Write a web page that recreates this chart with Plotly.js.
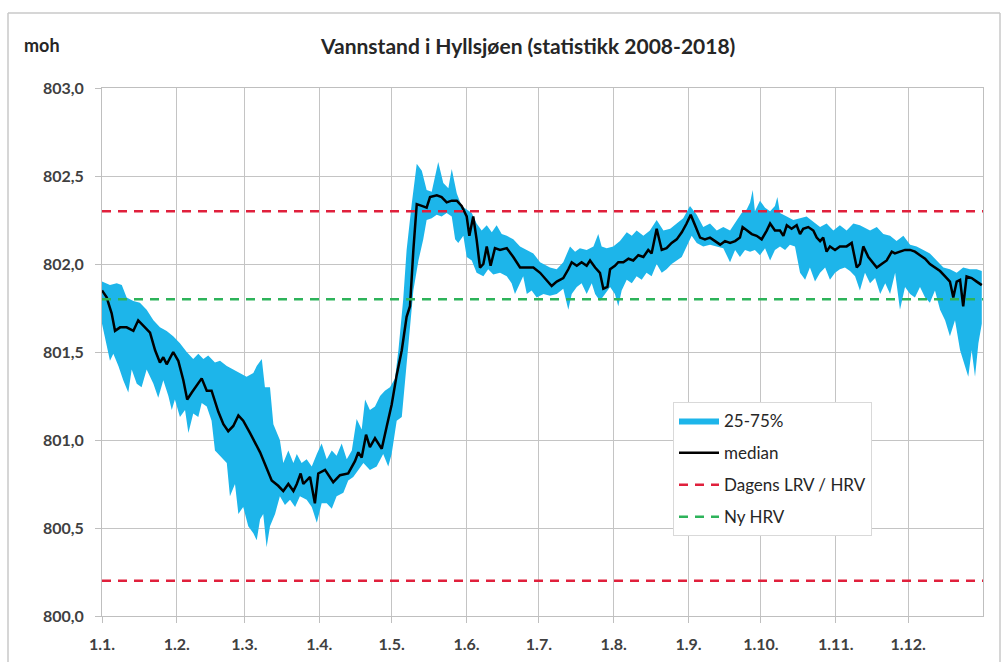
<!DOCTYPE html>
<html>
<head>
<meta charset="utf-8">
<script src="https://cdn.plot.ly/plotly-3.0.1.min.js"></script>
<style>html,body{margin:0;padding:0;background:#fff;}#chart{width:1008px;height:662px;}</style>
</head>
<body>
<div id="chart"></div>
<script>
// x = day of year (0 = 1 Jan), values in m o.h.
const monthStarts = [0,31,59,90,120,151,181,212,243,273,304,334];
const monthLabels = ["1.1.","1.2.","1.3.","1.4.","1.5.","1.6.","1.7.","1.8.","1.9.","1.10.","1.11.","1.12."];
const yTicks = [800.0,800.5,801.0,801.5,802.0,802.5,803.0];

const medDays = [0,2.0,2.6,4.0,5.4,7.5,10.2,13.0,15.0,17.1,19.9,22.0,24.0,25.4,26.8,29.5,31.6,33.7,35.3,37.2,39.2,41.3,43.4,45.4,48.2,50.3,52.3,54.4,56.5,58.5,61.3,65.5,70.3,73.0,75.1,77.2,79.3,80.7,82.3,83.4,86.2,88.2,89.6,92.4,95.8,98.6,102.0,104.8,106.2,107.6,109.4,111.0,113.1,115.9,118.0,120.0,122.1,124.2,126.2,127.6,129.0,130.4,132.5,134.5,135.9,138.7,140.7,142.8,144.9,147.0,149.0,151.1,152.2,153.8,155.2,156.6,158.0,159.4,161.0,162.8,164.9,167.7,170.4,173.2,176.0,178.7,181.5,184.2,186.3,188.4,191.1,193.2,194.6,196.7,198.7,200.8,202.2,204.3,206.3,207.7,209.4,210.5,212.5,213.9,216.0,218.1,220.1,222.2,224.3,226.3,227.7,229.8,231.9,233.9,236.0,238.1,240.2,242.2,243.9,245.7,247.8,249.8,251.9,254.0,256.1,258.1,260.2,262.3,264.3,265.4,267.1,269.2,271.2,273.3,275.4,276.8,278.8,280.9,282.3,283.7,285.7,287.8,289.2,290.5,292.6,294.7,296.1,297.5,298.8,300.2,301.6,303.7,305.7,308.5,310.6,312.7,314.0,315.4,317.5,319.6,321.0,323.0,325.1,327.2,328.5,330.6,332.7,334.8,336.8,338.9,341.0,343.0,345.1,347.2,349.3,351.3,352.7,354.1,355.5,356.8,358.2,360.3,362.4,364.5];
const medVals = [801.85,801.81,801.78,801.72,801.62,801.64,801.64,801.62,801.68,801.65,801.61,801.51,801.44,801.47,801.43,801.50,801.45,801.34,801.23,801.27,801.31,801.35,801.28,801.28,801.16,801.09,801.05,801.08,801.14,801.11,801.04,800.93,800.77,800.74,800.71,800.75,800.71,800.75,800.81,800.75,800.79,800.64,800.81,800.83,800.76,800.80,800.81,800.88,800.93,800.90,801.03,800.96,801.01,800.95,801.08,801.20,801.37,801.51,801.70,801.76,802.08,802.34,802.33,802.32,802.38,802.39,802.38,802.35,802.36,802.36,802.33,802.27,802.16,802.27,802.14,801.98,802.00,802.10,801.99,802.09,802.08,802.09,802.04,801.98,801.98,801.98,801.95,801.91,801.875,801.90,801.92,801.97,802.01,801.99,802.01,801.99,802.02,801.98,801.95,801.86,801.87,801.97,801.99,802.01,802.01,802.03,802.02,802.05,802.04,802.08,802.06,802.20,802.08,802.09,802.12,802.14,802.18,802.23,802.28,802.22,802.15,802.14,802.15,802.13,802.11,802.13,802.12,802.13,802.15,802.21,802.19,802.17,802.16,802.14,802.19,802.23,802.19,802.19,802.16,802.22,802.20,802.22,802.17,802.20,802.21,802.19,802.15,802.13,802.15,802.07,802.10,802.08,802.10,802.10,802.12,801.98,802.00,802.10,802.04,802.00,801.98,802.00,802.02,802.07,802.06,802.07,802.08,802.08,802.07,802.05,802.03,802.00,801.98,801.96,801.93,801.90,801.81,801.90,801.91,801.76,801.93,801.92,801.90,801.88];

const p75Days = [0,3.3,6.1,8.2,10.2,13.0,15.7,18.5,21.3,24.0,26.8,29.5,32.3,35.1,37.8,39.9,42.0,44.0,46.8,48.9,51.7,54.4,57.2,59.9,62.7,64.1,66.2,67.5,69.6,71.0,73.7,75.1,77.2,79.3,80.7,82.7,84.8,86.9,89.0,91.0,93.1,95.2,97.2,99.3,101.4,103.5,105.5,107.6,109.0,111.0,113.1,115.2,117.2,119.3,121.4,122.8,124.8,126.2,128.3,130.4,132.5,134.5,136.6,139.3,141.4,143.5,144.9,147.0,149.0,151.1,153.2,155.2,157.3,159.4,161.5,163.5,165.6,167.7,170.4,173.2,176.0,178.7,181.5,185.6,188.4,191.1,193.9,196.0,198.0,200.8,203.6,205.6,207.0,209.1,211.8,214.6,217.4,219.5,221.5,224.3,227.0,229.8,232.6,235.4,238.1,240.8,243.6,246.4,249.1,251.9,254.7,257.4,260.2,263.0,265.0,267.1,268.5,269.6,270.5,272.6,274.7,276.8,278.8,279.8,280.9,283.7,286.4,289.2,291.9,294.7,297.5,300.2,303.0,305.7,308.5,311.3,314.0,318.2,321.0,323.7,326.5,329.2,332.0,334.8,337.5,340.3,343.0,345.8,348.6,351.3,354.1,356.8,359.6,362.4,364.5];
const p75Vals = [801.90,801.88,801.89,801.88,801.81,801.79,801.78,801.74,801.68,801.64,801.62,801.59,801.55,801.50,801.46,801.49,801.46,801.48,801.44,801.45,801.42,801.40,801.38,801.36,801.38,801.42,801.46,801.30,801.30,801.09,801.00,800.87,800.94,800.87,800.92,800.87,800.89,800.85,800.92,800.98,800.89,800.94,800.91,800.98,800.89,800.94,801.12,801.06,801.23,801.17,801.19,801.25,801.28,801.30,801.35,801.51,801.80,802.08,802.34,802.57,802.53,802.42,802.41,802.58,802.46,802.43,802.54,802.40,802.33,802.31,802.29,802.23,802.19,802.22,802.18,802.22,802.17,802.16,802.14,802.10,802.08,802.06,802.01,801.98,801.97,802.01,802.10,802.07,802.09,802.08,802.10,802.17,802.10,802.09,802.10,802.13,802.18,802.16,802.19,802.16,802.19,802.25,802.19,802.20,802.23,802.26,802.33,802.28,802.21,802.23,802.19,802.21,802.19,802.25,802.29,802.31,802.35,802.42,802.30,802.36,802.32,802.30,802.33,802.38,802.29,802.27,802.25,802.26,802.27,802.24,802.21,802.23,802.19,802.22,802.19,802.23,802.22,802.19,802.21,802.17,802.16,802.13,802.16,802.11,802.10,802.08,802.06,802.02,801.98,801.97,801.95,801.98,801.97,801.97,801.96];

const p25Days = [0,2.0,3.3,4.7,6.8,8.8,10.9,12.3,14.4,16.4,18.5,21.3,23.3,25.4,27.5,28.9,30.2,32.3,34.4,35.8,37.8,39.9,41.3,43.4,45.4,46.8,48.9,51.7,53.0,55.1,56.5,58.5,60.6,62.7,64.1,65.5,66.8,68.2,69.6,71.7,73.7,75.8,77.9,80.0,82.0,84.8,86.9,89.0,91.0,93.1,95.2,97.2,100.0,102.0,104.1,106.2,108.3,111.0,113.8,116.5,118.6,120.0,122.1,124.2,126.2,127.6,129.0,131.1,133.1,134.5,136.6,138.7,140.7,142.8,144.9,146.3,147.6,149.7,151.1,153.2,155.2,158.0,160.0,162.1,164.9,167.7,169.7,171.1,173.2,174.5,176.0,178.0,180.1,182.9,185.6,188.4,191.1,193.2,194.6,196.7,198.7,200.8,202.9,204.3,206.3,208.4,210.5,212.5,213.9,215.3,217.4,219.5,221.5,223.6,225.6,227.7,229.8,231.9,233.9,236.0,238.1,240.2,242.2,244.3,246.4,249.1,251.9,254.7,257.4,260.2,262.3,264.3,266.4,268.5,270.5,272.6,274.7,276.8,278.8,280.9,283.0,285.0,287.1,289.2,291.3,293.3,295.4,297.5,299.6,301.6,303.7,305.7,307.8,309.9,312.0,314.0,316.1,318.2,320.3,322.4,324.5,326.5,328.6,330.6,332.7,334.8,336.8,338.9,341.0,343.0,345.1,347.2,349.3,351.3,353.4,355.5,357.6,358.9,360.3,361.7,363.1,364.5];
const p25Vals = [801.66,801.53,801.45,801.49,801.42,801.34,801.27,801.40,801.32,801.30,801.40,801.32,801.24,801.34,801.25,801.17,801.23,801.13,801.17,801.04,801.15,801.13,801.21,801.19,801.11,800.94,800.91,800.87,800.68,800.75,800.58,800.62,800.51,800.47,800.43,800.55,800.58,800.39,800.51,800.58,800.68,800.63,800.66,800.62,800.68,800.66,800.62,800.53,800.64,800.64,800.61,800.68,800.70,800.77,800.79,800.83,800.87,800.83,800.85,800.92,800.85,800.92,801.11,801.13,801.42,801.64,801.85,802.02,802.14,802.25,802.26,802.28,802.27,802.29,802.27,802.14,802.12,802.16,802.04,802.02,801.95,801.93,801.97,801.94,801.95,801.93,801.89,801.83,801.89,801.93,801.83,801.85,801.81,801.83,801.82,801.83,801.86,801.74,801.83,801.87,801.89,801.83,801.89,801.83,801.79,801.83,801.87,801.83,801.76,801.85,801.91,801.89,801.93,801.91,801.95,801.93,802.00,801.95,801.97,802.00,802.02,802.04,802.10,802.16,802.12,802.10,802.11,802.10,802.09,802.01,802.08,802.04,802.08,802.07,802.08,802.05,802.09,802.02,802.08,802.10,802.08,802.11,802.10,801.95,801.91,801.98,801.90,801.95,801.98,801.91,801.95,801.97,801.98,801.96,801.93,801.85,801.95,801.89,801.92,801.83,801.89,801.83,801.95,801.74,801.87,801.83,801.81,801.87,801.81,801.78,801.85,801.74,801.68,801.59,801.68,801.51,801.42,801.36,801.51,801.36,801.55,801.66];

const dagensLRV = 800.2;
const dagensHRV = 802.3;
const nyHRV = 801.8;
const yearEnd = 365;

const band = {
  x: p75Days.concat(p25Days.slice().reverse()),
  y: p75Vals.concat(p25Vals.slice().reverse()),
  type: 'scatter', mode: 'lines', fill: 'toself',
  fillcolor: '#1DB5EA', line: {width: 0, color: '#1DB5EA'},
  name: '25-75%', legendgroup: 'a', hoverinfo: 'skip'
};
const median = {
  x: medDays, y: medVals, type: 'scatter', mode: 'lines',
  line: {color: '#000000', width: 2.5}, name: 'median', legendgroup: 'b'
};
const dagens = {
  x: [0, yearEnd, null, 0, yearEnd], y: [dagensHRV, dagensHRV, null, dagensLRV, dagensLRV],
  type: 'scatter', mode: 'lines', connectgaps: false,
  line: {color: '#E0203C', width: 2.5, dash: '9px,7px'}, name: 'Dagens LRV / HRV', legendgroup: 'c'
};
const ny = {
  x: [0, yearEnd], y: [nyHRV, nyHRV], type: 'scatter', mode: 'lines',
  line: {color: '#2DB35A', width: 2.5, dash: '9px,7px'}, name: 'Ny HRV', legendgroup: 'd'
};

const tickFont = {family: 'Lato, "Open Sans", sans-serif', size: 16, color: '#404040', weight: 'bold'};
const L = 102, R = 983, T = 88, B = 616;
const px = v => (v - L) / (R - L);
const py = v => (B - v) / (B - T);

const layout = {
  width: 1008, height: 662,
  margin: {l: L, r: 1008 - R, t: T, b: 662 - B},
  paper_bgcolor: '#ffffff', plot_bgcolor: '#ffffff',
  separators: ', ',
  showlegend: true,
  title: {text: 'Vannstand i Hyllsjøen (statistikk 2008-2018)', x: 0.524, xref: 'container', xanchor: 'center',
          y: 1 - 47/662, yref: 'container', yanchor: 'middle',
          font: {family: 'Lato, "Open Sans", sans-serif', size: 21, color: '#262626', weight: 'bold'}},
  xaxis: {range: [0, yearEnd], tickmode: 'array', tickvals: monthStarts, ticktext: monthLabels,
          showgrid: true, gridcolor: '#c4c4c4', gridwidth: 1, zeroline: false,
          showline: true, linecolor: '#bfbfbf', linewidth: 1, mirror: true,
          ticks: 'outside', ticklen: 6, tickcolor: '#bfbfbf', ticklabelstandoff: 8,
          tickfont: tickFont, fixedrange: true},
  yaxis: {range: [800, 803], tickmode: 'array', tickvals: yTicks, tickformat: '.1f',
          showgrid: true, gridcolor: '#c4c4c4', gridwidth: 1, zeroline: false,
          showline: true, linecolor: '#bfbfbf', linewidth: 1, mirror: true,
          ticks: 'outside', ticklen: 6, tickcolor: '#bfbfbf', ticklabelstandoff: 8,
          tickfont: tickFont, fixedrange: true},
  legend: {x: px(673), y: py(402), xanchor: 'left', yanchor: 'top', xref: 'paper', yref: 'paper',
           bgcolor: '#ffffff', bordercolor: '#d9d9d9', borderwidth: 1,
           traceorder: 'grouped', tracegroupgap: 7, itemwidth: 40,
           font: {family: 'Lato, "Open Sans", sans-serif', size: 17, color: '#262626'}},
  annotations: [{text: 'moh', xref: 'paper', yref: 'paper', x: px(22), y: py(45), xanchor: 'left', yanchor: 'middle',
                 showarrow: false, font: {family: 'Lato, "Open Sans", sans-serif', size: 18, color: '#262626', weight: 'bold'}}],
  shapes: [
    {type: 'line', xref: 'paper', yref: 'paper', x0: px(8), x1: px(8), y0: py(13), y1: py(670), line: {color: '#c8c8c8', width: 1.5}},
    {type: 'line', xref: 'paper', yref: 'paper', x0: px(8), x1: px(1000), y0: py(13), y1: py(13), line: {color: '#c8c8c8', width: 1.5}},
    {type: 'line', xref: 'paper', yref: 'paper', x0: px(1000), x1: px(1000), y0: py(13), y1: py(670), line: {color: '#c8c8c8', width: 1.5}}
  ]
};

Plotly.newPlot('chart', [band, median, dagens, ny], layout, {displayModeBar: false, staticPlot: true});
</script>
</body>
</html>
